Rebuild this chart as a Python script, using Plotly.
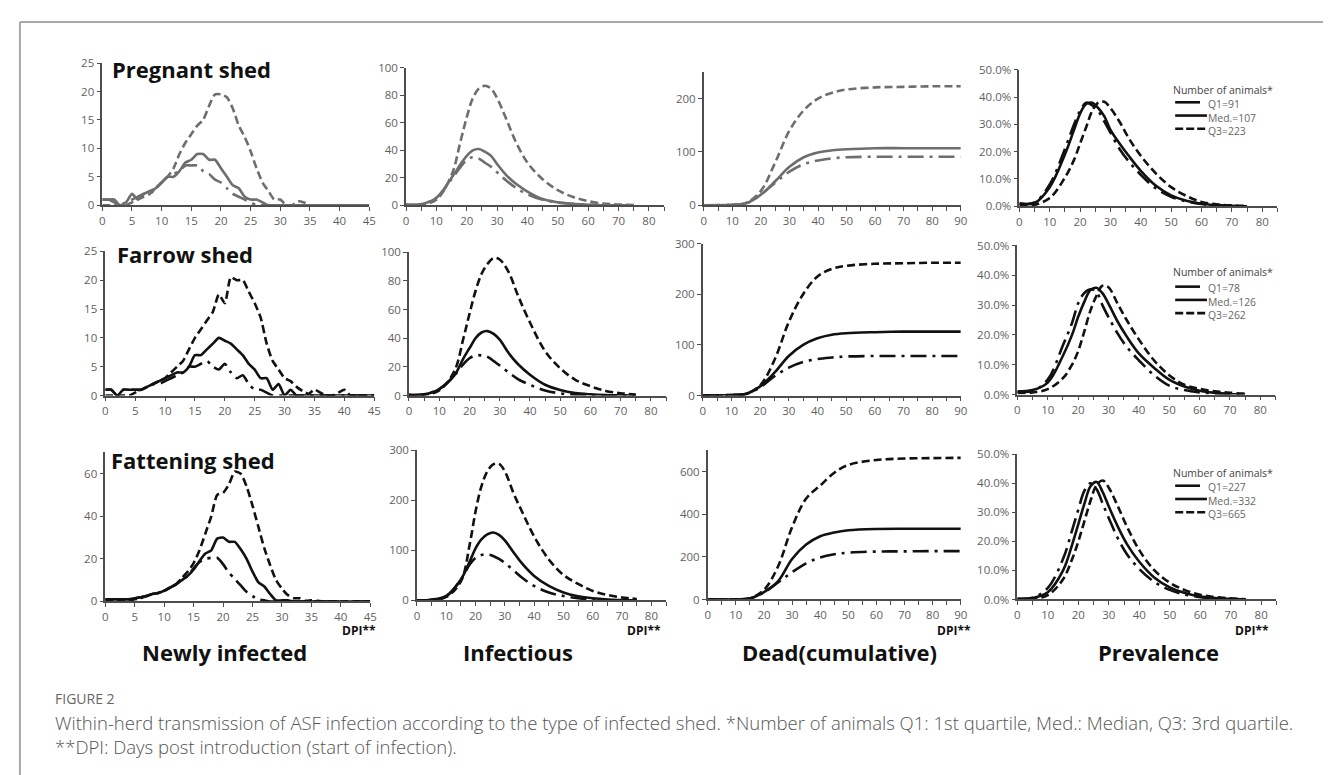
import plotly.graph_objects as go

W, H = 1331, 775

# ---------------- data ----------------
days = list(range(0, 46))
grid_inf = [0, 5, 10, 15, 18, 20, 22, 24, 26, 28, 30, 33, 36, 40, 45, 50, 55, 60, 65, 70, 75]
grid_dead = [0, 10, 15, 20, 25, 30, 35, 40, 45, 50, 60, 70, 80, 90]

# Newly infected (daily)
preg_new_q1 = [1, 1, 0.5, 0, 0.5, 1, 1.5, 2, 2, 3, 4, 5, 5.5, 6, 7, 7, 7, 6, 5.5, 4.5, 4, 3, 2, 1.5, 1, 0.5] + [0] * 20
preg_new_med = [1, 1, 1, 0, 0.5, 2, 1, 2, 2.5, 3, 4, 5, 5, 6, 7.5, 8, 9, 9, 8, 8, 6.5, 5, 3.5, 3, 1.5, 1, 1, 0.5] + [0] * 18
preg_new_q3 = [0, 0, 0, 0, 0, 0.5, 1, 1.5, 2, 3, 4, 5, 6.5, 9, 11, 12.5, 14, 15, 17.5, 19.5, 19.5, 19, 17, 14, 12, 9.5, 6.5, 4, 2.5, 1, 1, 0, 0, 0.7, 0.5] + [0] * 11

farrow_new_q1 = [1, 1, 0, 1, 1, 1, 1, 1.5, 2, 2, 2.5, 3, 3.5, 4, 5, 5, 5.5, 6, 5, 4.5, 5.5, 4, 3, 3.5, 2, 1, 1, 0.5] + [0] * 18
farrow_new_med = [1, 1, 0, 1, 1, 1, 1, 1.5, 2, 2.5, 3, 3.5, 4, 4, 5, 7, 7, 8, 9, 10, 9.5, 9, 8, 7, 5.5, 4.5, 3, 3, 1, 2, 0, 1] + [0] * 14
farrow_new_q3 = [0, 0, 0, 0, 0, 0.5, 1, 1.5, 2, 2.5, 3, 4, 5, 6, 8, 10, 11.5, 13, 14.5, 17.5, 16, 20.5, 20, 20, 18, 16, 13.5, 9, 6, 4.5, 3, 2.5, 1.5, 0.8, 0.3, 1, 0.5, 0, 0, 0.5, 1] + [0] * 5

fat_new_q1 = [1, 1, 1, 1, 1, 1.5, 2, 2.5, 3.5, 4, 5, 6.5, 8, 10, 12, 15.5, 18.5, 20, 20.5, 20.5, 17.5, 13.5, 10.5, 7.5, 4.5, 2.5, 1, 0.5] + [0] * 18
fat_new_med = [1, 1, 1, 1, 1, 1.5, 2, 2.5, 3.5, 4, 5, 6.5, 8, 10, 12, 15, 19, 22.5, 24, 29.5, 30, 28, 28, 24.5, 20, 14, 9, 7, 3.5, 0.5, 0.5, 0.5] + [0] * 14
fat_new_q3 = [0.5, 0.5, 0.5, 0.5, 0.5, 1, 1.5, 2.5, 3.5, 4, 5, 6.5, 8, 11, 14, 18, 24, 32, 40, 50, 51, 55, 61, 60, 54, 45, 35, 25, 17, 10, 6, 3, 1.5, 1.5, 0.3, 0.5, 0.3] + [0] * 9

# Infectious
preg_inf_q1 = [0.5, 0.8, 5.5, 19, 28, 33, 35, 34, 31, 28, 24, 18, 13, 8, 4, 2, 1, 0.3, 0, 0, 0]
preg_inf_med = [0.5, 0.8, 5.5, 20, 30, 36, 40, 41, 39, 36, 30, 22, 16, 10, 4.5, 2.2, 1, 0.4, 0, 0, 0]
preg_inf_q3 = [0, 0.5, 4, 22, 47, 64, 78, 85, 87, 85, 78, 63, 47, 31, 19, 11, 6, 3, 1.2, 0.6, 0.2]
farrow_inf_q1 = [0.5, 0.8, 4.5, 14, 22, 26, 28, 28, 27, 24, 21, 16, 11.5, 7.5, 3.5, 1.5, 0.6, 0.2, 0, 0, 0]
farrow_inf_med = [0.5, 0.8, 4.5, 14, 26, 33, 40, 44, 45, 43, 39, 29.5, 22, 14.5, 7.5, 3.8, 1.7, 0.8, 0.3, 0.1, 0]
farrow_inf_q3 = [0, 0.5, 3.5, 17, 40, 57, 73, 85, 92, 96, 95, 86, 70, 51, 31, 19, 11, 6.5, 3.2, 1.6, 0.7]
fat_inf_q1 = [0.5, 1.5, 9, 42, 72, 85, 91, 92, 89, 83, 75, 60, 45, 29, 16, 9, 4.5, 2, 0.8, 0.3, 0]
fat_inf_med = [0.5, 1.5, 9, 42, 78, 104, 122, 132, 136, 131, 120, 96, 73, 49, 29, 16, 8.5, 4.3, 2, 0.8, 0.2]
fat_inf_q3 = [0, 1, 7, 38, 112, 178, 228, 258, 272, 273, 258, 214, 176, 128, 82, 51, 33, 19, 11, 6, 3]

# Dead (cumulative)
preg_dead_q1 = [0, 1, 4, 20, 42, 63, 77, 84, 88, 90, 91, 91, 91, 91]
preg_dead_med = [0, 1, 4, 20, 45, 72, 90, 99, 103, 105, 107, 107, 107, 107]
preg_dead_q3 = [0, 1, 5, 27, 80, 140, 178, 200, 211, 217, 221, 222, 223, 223]
farrow_dead_q1 = [0, 1, 3, 16, 38, 55, 66, 72, 75, 77, 78, 78, 78, 78]
farrow_dead_med = [0, 1, 3, 18, 45, 78, 100, 113, 120, 123, 125, 126, 126, 126]
farrow_dead_q3 = [0, 1, 3, 20, 70, 145, 200, 235, 250, 256, 260, 261, 262, 262]
fat_dead_q1 = [0, 1, 5, 33, 80, 128, 170, 197, 212, 220, 225, 226, 227, 227]
fat_dead_med = [0, 1, 5, 35, 85, 190, 258, 297, 315, 325, 331, 332, 332, 332]
fat_dead_q3 = [0, 1, 5, 45, 155, 340, 474, 535, 595, 632, 655, 662, 664, 665]

# Prevalence (%)
preg_prev_q1 = [1, 1.4, 8, 21, 30, 35, 38, 37, 35, 31, 27, 21, 16.5, 11.5, 6.5, 3.5, 1.8, 0.8, 0.3, 0.1, 0]
preg_prev_med = [1, 1.2, 7, 19, 28, 34, 37.5, 38, 36, 33, 28, 23, 18.5, 13, 7.5, 4, 2, 0.9, 0.4, 0.1, 0]
preg_prev_q3 = [0.5, 0.6, 3, 10.5, 17, 23, 29, 35, 38, 38.3, 36, 31, 25, 18.5, 12, 7, 3.8, 1.6, 0.7, 0.3, 0.1]
farrow_prev_q1 = [1, 1.2, 5, 16.5, 24, 30.5, 34, 35.3, 34.5, 30, 26, 20.5, 16, 11.5, 6.5, 3, 1.5, 0.7, 0.3, 0.1, 0]
farrow_prev_med = [1, 1.5, 4, 13, 20, 26, 31, 35, 35.8, 34, 30.5, 24.5, 19.5, 13.8, 9, 5, 2.7, 1.3, 0.6, 0.2, 0]
farrow_prev_q3 = [0.5, 0.7, 1.8, 5.5, 10, 14.5, 21, 28, 33, 36.5, 36, 30.5, 25, 18.5, 11.5, 6.5, 3.3, 1.9, 1.1, 0.6, 0.3]
fat_prev_q1 = [0.3, 0.6, 4, 14, 24, 31, 37.5, 40, 38, 33, 28, 21, 15.5, 10.5, 6, 3.3, 1.7, 0.8, 0.4, 0.1, 0]
fat_prev_med = [0.2, 0.5, 2.5, 10, 19, 26, 33, 39, 40.5, 37, 32, 25, 19, 13, 7.5, 4.2, 2.2, 1, 0.5, 0.2, 0]
fat_prev_q3 = [0.1, 0.3, 1.5, 7, 14, 20, 27, 34, 39.5, 41, 38.5, 32, 25, 17, 10, 5.8, 3.2, 1.6, 0.8, 0.4, 0.1]

row_titles = ["Pregnant shed", "Farrow shed", "Fattening shed"]
col_titles = ["Newly infected", "Infectious", "Dead(cumulative)", "Prevalence"]
legend_title = "Number of animals*"
legend_q1 = ["Q1=91", "Q1=78", "Q1=227"]
legend_med = ["Med.=107", "Med.=126", "Med.=332"]
legend_q3 = ["Q3=223", "Q3=262", "Q3=665"]
caption_head = "FIGURE 2"
caption_1 = ("Within-herd transmission of ASF infection according to the type of infected shed. "
             "*Number of animals Q1: 1st quartile, Med.: Median, Q3: 3rd quartile.")
caption_2 = "**DPI: Days post introduction (start of infection)."

# ---------------- layout geometry (pixels) ----------------
FONT = "Open Sans"
def px(x):
    return x / W
def py(y):
    return 1 - y / H

# (x_left, x_right, y_top, y_bottom) per panel
boxes = [
    [(92, 361, 48, 193), (398, 658, 53, 193), (698, 957, 57, 193), (1016, 1276, 55, 194)],
    [(95, 366, 240, 387), (401, 660, 241, 387), (697, 957, 232, 387), (1014, 1274, 234, 386)],
    [(95, 362, 445, 597), (409, 660, 443, 596), (702, 957, 443, 595), (1014, 1275, 447, 595)],
]
yranges = [
    [(0, 25, 5), (0, 100, 20), (0, 250, 100), (0, 50, 10)],
    [(0, 25, 5), (0, 100, 20), (0, 300, 100), (0, 50, 10)],
    [(0, 70, 20), (0, 300, 100), (0, 700, 200), (0, 50, 10)],
]
xranges = [(0, 45, 5, None), (0, 85, 10, 5), (0, 90, 10, 5), (0, 85, 10, 5)]

series = [
    [(days, preg_new_q1, preg_new_med, preg_new_q3),
     (grid_inf, preg_inf_q1, preg_inf_med, preg_inf_q3),
     (grid_dead, preg_dead_q1, preg_dead_med, preg_dead_q3),
     (grid_inf, preg_prev_q1, preg_prev_med, preg_prev_q3)],
    [(days, farrow_new_q1, farrow_new_med, farrow_new_q3),
     (grid_inf, farrow_inf_q1, farrow_inf_med, farrow_inf_q3),
     (grid_dead, farrow_dead_q1, farrow_dead_med, farrow_dead_q3),
     (grid_inf, farrow_prev_q1, farrow_prev_med, farrow_prev_q3)],
    [(days, fat_new_q1, fat_new_med, fat_new_q3),
     (grid_inf, fat_inf_q1, fat_inf_med, fat_inf_q3),
     (grid_dead, fat_dead_q1, fat_dead_med, fat_dead_q3),
     (grid_inf, fat_prev_q1, fat_prev_med, fat_prev_q3)],
]

AXC = "#4d4d4d"
TICKC = "#5f5f5f"
GRAY = "#6e6e6e"
BLACK = "#111111"
DASH_Q1 = "16px,6px,3px,6px"
DASH_Q3 = "8px,4px"
TICKSIZE = 11.5

fig = go.Figure()
layout = dict(
    width=W, height=H, margin=dict(l=0, r=0, t=0, b=0),
    paper_bgcolor="white", plot_bgcolor="rgba(0,0,0,0)",
    showlegend=False, font=dict(family=FONT, color="#222"),
)

for r in range(3):
    for c in range(4):
        i = r * 4 + c + 1
        sfx = "" if i == 1 else str(i)
        xl, xr, yt, yb = boxes[r][c]
        y0, y1, ydt = yranges[r][c]
        x0, x1, xdt, xminor = xranges[c]
        xa = dict(
            domain=[px(xl), px(xr)], range=[x0, x1], anchor="y" + sfx,
            showline=True, linecolor=AXC, linewidth=1.5, mirror=False,
            ticks="outside", ticklen=4, tickwidth=1.2, tickcolor=AXC,
            dtick=xdt, tick0=0, showgrid=False, zeroline=False,
            tickfont=dict(size=TICKSIZE, color=TICKC, family=FONT),
            fixedrange=True,
        )
        if xminor:
            xa["minor"] = dict(dtick=xminor, tick0=0, ticks="outside", ticklen=4,
                               tickwidth=1.2, tickcolor=AXC, showgrid=False)
        ya = dict(
            domain=[py(yb), py(yt)], range=[y0, y1], anchor="x" + sfx,
            showline=True, linecolor=AXC, linewidth=1.5,
            ticks="outside", ticklen=4, tickwidth=1.2, tickcolor=AXC,
            dtick=ydt, tick0=0, showgrid=False, zeroline=False,
            tickfont=dict(size=TICKSIZE, color=TICKC, family=FONT),
            fixedrange=True,
        )
        if c == 3:
            ya["tickformat"] = ".1f"
            ya["ticksuffix"] = "%"
        layout["xaxis" + sfx] = xa
        layout["yaxis" + sfx] = ya

        xs, q1, med, q3 = series[r][c]
        col = GRAY if (r == 0 and c < 3) else BLACK
        smooth = 0.6 if c == 0 else 1.0
        for name, ys, dash in (("Q1", q1, DASH_Q1), ("Med.", med, "solid"), ("Q3", q3, DASH_Q3)):
            fig.add_trace(go.Scatter(
                x=xs, y=ys, mode="lines", name=name,
                line=dict(color=col, width=2.6, dash=dash, shape="spline", smoothing=smooth),
                xaxis="x" + sfx, yaxis="y" + sfx, hoverinfo="skip",
            ))

annotations = []
shapes = []

# row titles
row_pos = [(100, 54), (105, 243), (99, 453)]
for t, (x, y) in zip(row_titles, row_pos):
    annotations.append(dict(text="<b>" + t + "</b>", x=px(x), y=py(y), xref="paper", yref="paper",
                            xanchor="left", yanchor="middle", showarrow=False,
                            font=dict(size=22, color="#111", family=FONT)))

# column titles
col_pos = [215, 511, 835, 1156]
for t, x in zip(col_titles, col_pos):
    annotations.append(dict(text="<b>" + t + "</b>", x=px(x), y=py(649), xref="paper", yref="paper",
                            xanchor="center", yanchor="middle", showarrow=False,
                            font=dict(size=22, color="#111", family=FONT)))

# DPI** labels
for x, y in [(351, 627), (638, 627), (950, 627), (1250, 627)]:
    annotations.append(dict(text="<b>DPI**</b>", x=px(x), y=py(y), xref="paper", yref="paper",
                            xanchor="center", yanchor="middle", showarrow=False,
                            font=dict(size=12, color="#111", family=FONT)))

# legends (one per row, in prevalence panel)
LEG_FS = 9.2
LEG_STEP = LEG_FS * 1.3  # plotly multi-line spacing
leg_rows = [(75, 88), (261, 276), (466, 479)]
for k, (ty, l1) in enumerate(leg_rows):
    annotations.append(dict(text=legend_title, x=px(1169), y=py(ty), xref="paper", yref="paper",
                            xanchor="left", yanchor="middle", showarrow=False,
                            font=dict(size=10.5, color="#444", family=FONT)))
    entries = "<br>".join([legend_q1[k], legend_med[k], legend_q3[k]])
    annotations.append(dict(text=entries, x=px(1205), y=py(l1 - LEG_STEP / 2 - 0.5),
                            xref="paper", yref="paper", align="left",
                            xanchor="left", yanchor="top", showarrow=False, borderpad=0,
                            font=dict(size=LEG_FS + 1.2, color="#666", family=FONT)))
    lys = [l1 + j * (LEG_FS + 1.2) * 1.3 for j in range(3)]
    shapes.append(dict(type="line", xref="paper", yref="paper", x0=px(1173), x1=px(1198),
                       y0=py(lys[0]), y1=py(lys[0]), line=dict(color=BLACK, width=2.6)))
    shapes.append(dict(type="line", xref="paper", yref="paper", x0=px(1173), x1=px(1205),
                       y0=py(lys[1]), y1=py(lys[1]), line=dict(color=BLACK, width=2.6)))
    shapes.append(dict(type="line", xref="paper", yref="paper", x0=px(1173), x1=px(1205),
                       y0=py(lys[2]), y1=py(lys[2]), line=dict(color=BLACK, width=2.6, dash="8px,3px")))

# caption
annotations.append(dict(text=caption_head, x=px(42), y=py(696), xref="paper", yref="paper",
                        xanchor="left", yanchor="middle", showarrow=False,
                        font=dict(size=14, color="#666", family=FONT)))
annotations.append(dict(text=caption_1, x=px(42), y=py(720), xref="paper", yref="paper",
                        xanchor="left", yanchor="middle", showarrow=False,
                        font=dict(size=18.5, color="#555", family=FONT, weight=300)))
annotations.append(dict(text=caption_2, x=px(42), y=py(745), xref="paper", yref="paper",
                        xanchor="left", yanchor="middle", showarrow=False,
                        font=dict(size=18.5, color="#555", family=FONT, weight=300)))

# frame lines (top and left)
shapes.append(dict(type="line", xref="paper", yref="paper", x0=px(9), x1=1, y0=py(6), y1=py(6),
                   line=dict(color="#a8a8a8", width=2)))
shapes.append(dict(type="line", xref="paper", yref="paper", x0=px(9), x1=px(9), y0=py(6), y1=0,
                   line=dict(color="#a8a8a8", width=2)))

layout["annotations"] = annotations
layout["shapes"] = shapes
fig.update_layout(**layout)
fig.write_html("out.html")
